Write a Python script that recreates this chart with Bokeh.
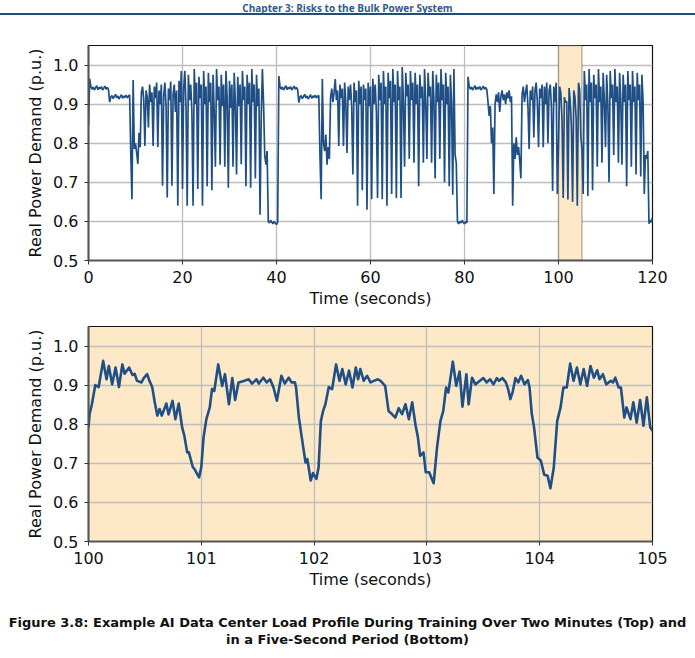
from bokeh.plotting import figure
from bokeh.models import Range1d, FixedTicker, Div, BoxAnnotation
from bokeh.layouts import column
from bokeh.embed import file_html
from bokeh.resources import INLINE

# ---------------- data ----------------
header_text = "Chapter 3: Risks to the Bulk Power System"
caption_line1 = "Figure 3.8: Example AI Data Center Load Profile During Training Over Two Minutes (Top) and"
caption_line2 = "in a Five-Second Period (Bottom)"
y_label = "Real Power Demand (p.u.)"
x_label = "Time (seconds)"

# top panel: real power demand sampled every 0.25 s, 0 .. 120 s
top_sample_step = 0.25
top_values = [
    0.845, 0.965, 0.945, 0.938, 0.944, 0.936, 0.942, 0.947, 0.937, 0.943, 0.939, 0.945, 0.936, 0.941, 0.946, 0.938, 0.943, 0.937, 0.905, 0.918,
    0.922, 0.914, 0.920, 0.925, 0.916, 0.921, 0.913, 0.919, 0.924, 0.915, 0.921, 0.917, 0.923, 0.916, 0.920, 0.924, 0.770, 0.657, 0.962, 0.785,
    0.800, 0.775, 0.747, 0.827, 0.790, 0.930, 0.945, 0.912, 0.793, 0.935, 0.918, 0.840, 0.950, 0.905, 0.930, 0.793, 0.945, 0.915, 0.955, 0.790,
    0.935, 0.900, 0.950, 0.691, 0.920, 0.955, 0.895, 0.661, 0.940, 0.910, 0.958, 0.691, 0.925, 0.950, 0.880, 0.935, 0.640, 0.960, 0.905, 0.985,
    0.683, 0.940, 0.985, 0.890, 0.640, 0.975, 0.910, 0.950, 0.880, 0.640, 0.990, 0.900, 0.955, 0.683, 0.970, 0.915, 0.950, 0.640, 0.985, 0.900,
    0.945, 0.690, 0.980, 0.905, 0.955, 0.680, 0.975, 0.880, 0.740, 0.990, 0.910, 0.945, 0.745, 0.975, 0.895, 0.950, 0.740, 0.985, 0.915, 0.686,
    0.960, 0.890, 0.950, 0.740, 0.980, 0.905, 0.720, 0.970, 0.895, 0.950, 0.746, 0.985, 0.910, 0.945, 0.690, 0.975, 0.900, 0.955, 0.686, 0.990,
    0.905, 0.950, 0.710, 0.975, 0.895, 0.940, 0.617, 0.870, 0.990, 0.900, 0.768, 0.745, 0.780, 0.600, 0.596, 0.603, 0.598, 0.594, 0.600, 0.596,
    0.592, 0.598, 0.972, 0.945, 0.938, 0.944, 0.936, 0.942, 0.947, 0.937, 0.943, 0.939, 0.945, 0.936, 0.941, 0.946, 0.938, 0.943, 0.937, 0.904,
    0.918, 0.922, 0.914, 0.920, 0.925, 0.916, 0.921, 0.913, 0.919, 0.924, 0.915, 0.921, 0.917, 0.923, 0.916, 0.920, 0.922, 0.768, 0.657, 0.964,
    0.800, 0.780, 0.822, 0.745, 0.790, 0.760, 0.915, 0.940, 0.905, 0.930, 0.964, 0.910, 0.935, 0.793, 0.950, 0.915, 0.940, 0.793, 0.955, 0.905,
    0.775, 0.945, 0.910, 0.950, 0.895, 0.720, 0.955, 0.905, 0.935, 0.640, 0.960, 0.900, 0.945, 0.680, 0.950, 0.910, 0.940, 0.630, 0.955, 0.895,
    0.945, 0.657, 0.965, 0.900, 0.950, 0.880, 0.660, 0.975, 0.910, 0.955, 0.657, 0.985, 0.900, 0.945, 0.640, 0.980, 0.915, 0.960, 0.670, 0.990,
    0.905, 0.950, 0.660, 0.985, 0.910, 0.945, 0.660, 0.995, 0.905, 0.740, 0.980, 0.920, 0.950, 0.760, 0.985, 0.910, 0.955, 0.750, 0.980, 0.900,
    0.950, 0.690, 0.975, 0.915, 0.945, 0.750, 0.990, 0.905, 0.760, 0.980, 0.920, 0.945, 0.750, 0.985, 0.910, 0.710, 0.975, 0.905, 0.955, 0.760,
    0.990, 0.910, 0.950, 0.700, 0.980, 0.900, 0.945, 0.690, 0.975, 0.905, 0.668, 0.990, 0.770, 0.750, 0.600, 0.594, 0.600, 0.596, 0.603, 0.597,
    0.594, 0.600, 0.596, 0.970, 0.945, 0.938, 0.944, 0.936, 0.942, 0.947, 0.937, 0.943, 0.939, 0.945, 0.936, 0.941, 0.946, 0.938, 0.943, 0.937,
    0.905, 0.870, 0.895, 0.800, 0.840, 0.670, 0.900, 0.925, 0.905, 0.930, 0.880, 0.920, 0.935, 0.910, 0.925, 0.900, 0.930, 0.915, 0.935, 0.905,
    0.920, 0.640, 0.800, 0.760, 0.815, 0.770, 0.790, 0.755, 0.710, 0.925, 0.945, 0.905, 0.930, 0.950, 0.895, 0.785, 0.935, 0.910, 0.945, 0.815,
    0.935, 0.955, 0.905, 0.790, 0.940, 0.915, 0.950, 0.790, 0.945, 0.900, 0.955, 0.800, 0.935, 0.950, 0.890, 0.678, 0.945, 0.905, 0.955, 0.670,
    0.790, 0.945, 0.928, 0.860, 0.660, 0.918, 0.904, 0.907, 0.656, 0.941, 0.907, 0.841, 0.650, 0.935, 0.918, 0.864, 0.640, 0.955, 0.938, 0.817,
    0.783, 0.670, 0.985, 0.910, 0.950, 0.665, 0.990, 0.905, 0.955, 0.680, 0.975, 0.915, 0.950, 0.740, 0.990, 0.905, 0.945, 0.750, 0.980, 0.910,
    0.790, 0.975, 0.900, 0.700, 0.985, 0.915, 0.950, 0.770, 0.990, 0.905, 0.945, 0.750, 0.980, 0.910, 0.745, 0.975, 0.905, 0.950, 0.690, 0.985,
    0.910, 0.950, 0.740, 0.985, 0.905, 0.945, 0.720, 0.980, 0.910, 0.950, 0.715, 0.975, 0.905, 0.670, 0.770, 0.760, 0.780, 0.594, 0.603, 0.598,
    0.610,
]
top_time = [i * top_sample_step for i in range(len(top_values))]

# highlighted window shown in detail in the bottom panel
zoom_start = 100
zoom_end = 105

# bottom panel: 100 .. 105 s detail
bottom_time = [
    100.00, 100.01, 100.03, 100.06, 100.09, 100.13, 100.16, 100.18, 100.21, 100.24,
    100.27, 100.30, 100.32, 100.36, 100.39, 100.41, 100.43, 100.47, 100.49, 100.52,
    100.54, 100.565, 100.585, 100.61, 100.63, 100.65, 100.69, 100.71, 100.745, 100.77,
    100.80, 100.83, 100.85, 100.875, 100.89, 100.925, 100.94, 100.98, 101.00, 101.02,
    101.045, 101.075, 101.095, 101.115, 101.15, 101.185, 101.21, 101.245, 101.275, 101.30,
    101.33, 101.37, 101.42, 101.45, 101.49, 101.51, 101.55, 101.58, 101.61, 101.64,
    101.67, 101.71, 101.74, 101.775, 101.80, 101.83, 101.84, 101.865, 101.895, 101.924,
    101.94, 101.97, 101.99, 102.02, 102.04, 102.06, 102.08, 102.10, 102.13, 102.16,
    102.195, 102.225, 102.25, 102.28, 102.31, 102.34, 102.37, 102.39, 102.41, 102.44,
    102.47, 102.50, 102.53, 102.565, 102.59, 102.63, 102.66, 102.69, 102.72, 102.75,
    102.78, 102.81, 102.84, 102.87, 102.90, 102.92, 102.94, 102.97, 102.99, 103.02,
    103.06, 103.09, 103.12, 103.145, 103.17, 103.19, 103.23, 103.26, 103.29, 103.315,
    103.35, 103.37, 103.40, 103.43, 103.47, 103.50, 103.53, 103.56, 103.59, 103.62,
    103.64, 103.67, 103.70, 103.72, 103.74, 103.76, 103.785, 103.81, 103.835, 103.865,
    103.895, 103.91, 103.93, 103.95, 103.98, 104.01, 104.04, 104.07, 104.095, 104.125,
    104.155, 104.185, 104.21, 104.24, 104.27, 104.30, 104.33, 104.36, 104.39, 104.42,
    104.45, 104.48, 104.51, 104.53, 104.56, 104.59, 104.63, 104.65, 104.67, 104.70,
    104.72, 104.75, 104.77, 104.805, 104.83, 104.86, 104.89, 104.92, 104.95, 104.98,
    105.00,
]
bottom_values = [
    0.792, 0.826, 0.851, 0.900, 0.895, 0.962, 0.915, 0.949, 0.902, 0.945,
    0.895, 0.953, 0.929, 0.945, 0.926, 0.929, 0.911, 0.907, 0.918, 0.928,
    0.911, 0.895, 0.860, 0.822, 0.839, 0.822, 0.853, 0.825, 0.860, 0.813,
    0.853, 0.792, 0.770, 0.728, 0.728, 0.690, 0.685, 0.664, 0.690, 0.767,
    0.813, 0.843, 0.890, 0.885, 0.953, 0.898, 0.928, 0.851, 0.918, 0.862,
    0.907, 0.910, 0.915, 0.904, 0.915, 0.904, 0.919, 0.907, 0.915, 0.894,
    0.860, 0.924, 0.904, 0.919, 0.907, 0.907, 0.894, 0.817, 0.758, 0.702,
    0.711, 0.656, 0.675, 0.660, 0.690, 0.808, 0.834, 0.851, 0.895, 0.890,
    0.953, 0.911, 0.941, 0.902, 0.937, 0.894, 0.945, 0.915, 0.941, 0.911,
    0.924, 0.907, 0.911, 0.915, 0.911, 0.898, 0.834, 0.826, 0.817, 0.841,
    0.826, 0.851, 0.813, 0.856, 0.796, 0.767, 0.719, 0.728, 0.677, 0.677,
    0.649, 0.741, 0.808, 0.834, 0.894, 0.881, 0.960, 0.898, 0.935, 0.845,
    0.928, 0.851, 0.919, 0.902, 0.911, 0.918, 0.907, 0.915, 0.902, 0.918,
    0.911, 0.918, 0.907, 0.890, 0.864, 0.882, 0.918, 0.907, 0.924, 0.902,
    0.913, 0.894, 0.826, 0.792, 0.715, 0.707, 0.671, 0.668, 0.636, 0.690,
    0.808, 0.843, 0.894, 0.894, 0.955, 0.911, 0.945, 0.902, 0.941, 0.898,
    0.949, 0.919, 0.938, 0.915, 0.928, 0.902, 0.911, 0.907, 0.919, 0.894,
    0.894, 0.817, 0.843, 0.813, 0.856, 0.804, 0.862, 0.796, 0.869, 0.792,
    0.783,
]

y_ticks = [0.5, 0.6, 0.7, 0.8, 0.9, 1.0]
y_tick_labels = ["0.5", "0.6", "0.7", "0.8", "0.9", "1.0"]
top_x_ticks = [0, 20, 40, 60, 80, 100, 120]
bottom_x_ticks = [100, 101, 102, 103, 104, 105]
y_min, y_max = 0.5, 1.05

# ---------------- styling ----------------
LINE_COLOR = "#204f86"
HIGHLIGHT = "#fde9c8"
FONT = "DejaVu Sans"
W = 695


def style(p, xticks):
    p.xaxis.ticker = FixedTicker(ticks=xticks)
    p.yaxis.ticker = FixedTicker(ticks=y_ticks)
    p.yaxis.major_label_overrides = {t: l for t, l in zip(y_ticks, y_tick_labels)}
    p.xaxis.major_label_overrides = {t: str(t) for t in xticks}
    for ax in (p.xaxis[0], p.yaxis[0]):
        ax.major_label_text_font = FONT
        ax.major_label_text_font_size = "16px"
        ax.major_label_text_color = "#111111"
        ax.axis_label_text_font = FONT
        ax.axis_label_text_font_size = "16px"
        ax.axis_label_text_font_style = "normal"
        ax.axis_label_text_color = "#111111"
        ax.axis_line_color = "#555555"
        ax.axis_line_width = 2
        ax.major_tick_line_color = "#333333"
        ax.major_tick_line_width = 1
        ax.major_tick_out = 4
        ax.major_tick_in = 0
        ax.minor_tick_line_color = None
    p.xaxis.major_label_standoff = 6
    p.yaxis.major_label_standoff = 6
    p.xaxis.axis_label_standoff = 3
    p.yaxis.axis_label_standoff = 5
    p.xaxis.axis_label = x_label
    p.yaxis.axis_label = y_label
    p.grid.grid_line_color = "#bdbdbd"
    p.grid.grid_line_width = 1.3
    p.outline_line_color = "#111111"
    p.outline_line_width = 1.2
    p.border_fill_color = "white"


top = figure(width=W, height=298, output_backend="svg", toolbar_location=None,
             x_range=Range1d(0, 120), y_range=Range1d(y_min, y_max),
             min_border_left=88, min_border_right=43, min_border_top=25, min_border_bottom=58)
style(top, top_x_ticks)
top.add_layout(BoxAnnotation(left=zoom_start, right=zoom_end, fill_color=HIGHLIGHT, fill_alpha=1.0,
                             line_color="#000000", line_width=1.3, level="underlay"))
top.line(top_time, top_values, line_color=LINE_COLOR, line_width=1.7)

bottom = figure(width=W, height=273, output_backend="svg", toolbar_location=None,
                x_range=Range1d(zoom_start, zoom_end), y_range=Range1d(y_min, y_max),
                min_border_left=88, min_border_right=43, min_border_top=8, min_border_bottom=50)
style(bottom, bottom_x_ticks)
bottom.background_fill_color = HIGHLIGHT
bottom.line(bottom_time, bottom_values, line_color=LINE_COLOR, line_width=2.6, line_join="round")

header = Div(text=(f'<div style="width:{W}px;height:13px;border-bottom:2px solid #1f4e79;'
                   f'text-align:center;font-family:\'Open Sans\';font-weight:bold;font-size:10px;'
                   f'line-height:12px;color:#2b5c91;">{header_text}</div>'),
             width=W, height=20, margin=(0, 0, 0, 0))

caption = Div(text=(f'<div style="width:{W}px;padding-top:23px;text-align:center;font-family:\'DejaVu Sans\';'
                    f'font-weight:bold;font-size:13px;line-height:17px;color:#111111;white-space:nowrap;">'
                    f'{caption_line1}<br>{caption_line2}</div>'),
              width=W, height=67, margin=(0, 0, 0, 0))

layout = column(header, top, bottom, caption, spacing=0)
open("out.html", "w").write(file_html(layout, INLINE))
